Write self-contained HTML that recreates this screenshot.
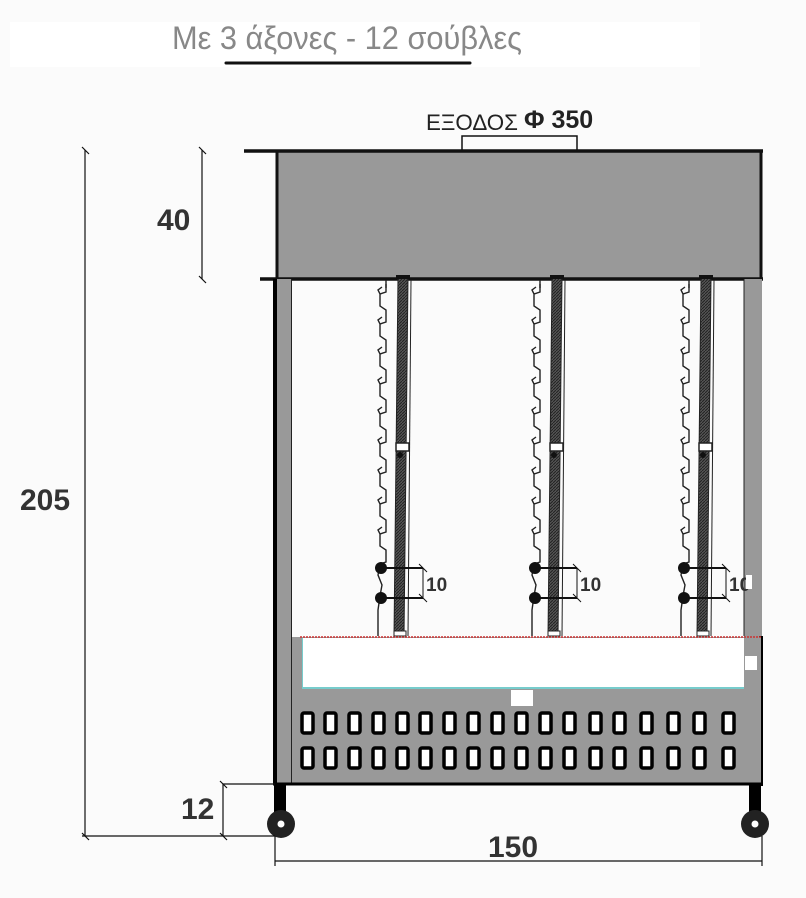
<!DOCTYPE html>
<html><head><meta charset="utf-8"><style>
html,body{margin:0;padding:0;background:#fbfbfb}
svg{display:block}
text{font-family:"Liberation Sans","DejaVu Sans",sans-serif}
</style></head><body>
<svg width="806" height="898" viewBox="0 0 806 898" xmlns="http://www.w3.org/2000/svg">
<defs>
<pattern id="hatch" width="3" height="3" patternUnits="userSpaceOnUse">
<rect width="3" height="3" fill="#555"/><path d="M0 3L3 0" stroke="#222" stroke-width="1"/>
</pattern>
<g id="hook"><path d="M386 0 L386 8 L380 10 L378 6 L382 3 M380 10 L380 22 L386 26 L386 30" fill="none" stroke="#222" stroke-width="1.4"/></g>
<g id="rodset">
<line x1="386" y1="280" x2="386" y2="288" stroke="#222" stroke-width="1.4"/>
<use href="#hook" y="284"/><use href="#hook" y="314"/><use href="#hook" y="344"/><use href="#hook" y="374"/><use href="#hook" y="404"/><use href="#hook" y="434"/><use href="#hook" y="464"/><use href="#hook" y="494"/><use href="#hook" y="524"/>
<path d="M386 554 L386 562 L380 564 L378 575 L382 585 L380 596 L378 610 L378 636" fill="none" stroke="#222" stroke-width="1.4"/>
<!-- rod -->
<polygon points="398,278 408,278 404,636 394,636" fill="url(#hatch)" stroke="#222" stroke-width="1"/>
<line x1="411" y1="280" x2="408" y2="636" stroke="#222" stroke-width="1"/>
<rect x="396" y="443" width="13" height="8" fill="#fff" stroke="#222" stroke-width="1.5"/>
<circle cx="400" cy="455" r="3" fill="#111"/>
<rect x="394" y="631" width="12" height="5" fill="#fff" stroke="#222" stroke-width="1"/>
<rect x="396" y="275" width="14" height="4" fill="#111"/>
<!-- dots & dim -->
<circle cx="381" cy="568" r="6" fill="#111"/>
<circle cx="381" cy="598" r="6" fill="#111"/>
<line x1="381" y1="568" x2="423" y2="568" stroke="#111" stroke-width="2"/>
<line x1="381" y1="598" x2="423" y2="598" stroke="#111" stroke-width="2"/>
<line x1="423" y1="568" x2="423" y2="598" stroke="#111" stroke-width="1"/>
<line x1="419" y1="564" x2="427" y2="572" stroke="#111" stroke-width="1"/>
<line x1="419" y1="594" x2="427" y2="602" stroke="#111" stroke-width="1"/>
<text x="426" y="591" font-size="19" font-weight="bold" fill="#333">10</text>
</g>
<g id="slot"><rect x="0" y="0" width="11" height="20" rx="2" fill="#fff" stroke="#000" stroke-width="3.5"/></g>
</defs>

<rect x="10" y="22" width="690" height="45" fill="#fff"/>
<text x="172" y="49" font-size="32" fill="#888" textLength="350" lengthAdjust="spacingAndGlyphs" font-family="Liberation Sans Narrow, Liberation Sans, sans-serif">Με 3 άξονες - 12 σούβλες</text>
<line x1="226" y1="63" x2="470" y2="63" stroke="#111" stroke-width="3" stroke-linecap="round"/>

<text x="426" y="130" font-size="22" fill="#222" textLength="92" lengthAdjust="spacingAndGlyphs">ΕΞΟΔΟΣ</text>
<text x="524" y="128" font-size="25" font-weight="bold" fill="#222">Φ 350</text>
<path d="M462 150 V136 H577 V150" fill="none" stroke="#111" stroke-width="1.5"/>

<!-- top box -->
<rect x="277" y="150" width="484" height="128" fill="#999"/>
<line x1="244" y1="151" x2="763" y2="151" stroke="#111" stroke-width="3.5"/>
<line x1="260" y1="279" x2="763" y2="279" stroke="#111" stroke-width="3.5"/>
<line x1="277" y1="150" x2="277" y2="280" stroke="#111" stroke-width="3"/>
<line x1="761" y1="150" x2="761" y2="280" stroke="#111" stroke-width="3"/>

<!-- posts -->
<rect x="273" y="279" width="19" height="505" fill="#999"/>
<rect x="273" y="279" width="4" height="505" fill="#000"/>
<line x1="291.5" y1="279" x2="291.5" y2="784" stroke="#222" stroke-width="1"/>
<rect x="744" y="279" width="18" height="505" fill="#999"/>
<rect x="759" y="636" width="4" height="150" fill="#000"/>
<line x1="744" y1="279" x2="744" y2="636" stroke="#222" stroke-width="1"/>

<use href="#rodset"/>
<use href="#rodset" x="154"/>
<use href="#rodset" x="303"/>
<rect x="746" y="575" width="6" height="14" fill="#fff"/>

<!-- bottom panel -->
<rect x="277" y="637" width="484" height="147" fill="#999"/>
<rect x="273" y="637" width="4" height="147" fill="#000"/>
<line x1="291.5" y1="637" x2="291.5" y2="784" stroke="#222" stroke-width="1"/>
<rect x="302" y="638" width="442" height="50" fill="#fff"/>
<line x1="302" y1="688" x2="744" y2="688" stroke="#7cc" stroke-width="2"/>
<line x1="302.5" y1="638" x2="302.5" y2="688" stroke="#7cc" stroke-width="1"/>
<line x1="300" y1="637" x2="762" y2="637" stroke="#c33" stroke-width="1.5" stroke-dasharray="2 1"/>
<rect x="511" y="690" width="22" height="16" fill="#fff"/>
<rect x="745" y="656" width="12" height="14" fill="#fff"/>
<line x1="273" y1="784" x2="763" y2="784" stroke="#000" stroke-width="3"/>

<g id="row1">
<use href="#slot" x="302" y="713"/><use href="#slot" x="325" y="713"/><use href="#slot" x="349" y="713"/><use href="#slot" x="373" y="713"/><use href="#slot" x="397" y="713"/><use href="#slot" x="420" y="713"/><use href="#slot" x="444" y="713"/><use href="#slot" x="468" y="713"/><use href="#slot" x="492" y="713"/><use href="#slot" x="516" y="713"/><use href="#slot" x="540" y="713"/><use href="#slot" x="564" y="713"/><use href="#slot" x="590" y="713"/><use href="#slot" x="614" y="713"/><use href="#slot" x="641" y="713"/><use href="#slot" x="668" y="713"/><use href="#slot" x="694" y="713"/><use href="#slot" x="723" y="713"/>
</g>
<use href="#row1" y="35"/>

<!-- legs -->
<rect x="274" y="784" width="12" height="28" fill="#000"/>
<circle cx="281" cy="824" r="14" fill="#222"/><circle cx="281" cy="824" r="3.5" fill="#fff"/>
<rect x="749" y="784" width="12" height="28" fill="#000"/>
<circle cx="755" cy="824" r="14" fill="#222"/><circle cx="755" cy="824" r="3.5" fill="#fff"/>

<!-- dimensions -->
<g stroke="#111" stroke-width="1.2" fill="none">
<line x1="85" y1="150" x2="85" y2="836"/>
<line x1="82" y1="836" x2="275" y2="836"/>
<line x1="82" y1="147" x2="89" y2="154"/>
<line x1="82" y1="833" x2="89" y2="840"/>
<line x1="202" y1="150" x2="202" y2="279"/>
<line x1="199" y1="147" x2="206" y2="154"/>
<line x1="199" y1="276" x2="206" y2="283"/>
<line x1="223" y1="784" x2="223" y2="836"/>
<line x1="223" y1="784" x2="275" y2="784"/>
<line x1="220" y1="781" x2="227" y2="788"/>
<line x1="220" y1="833" x2="227" y2="840"/>
<line x1="275" y1="836" x2="275" y2="866"/>
<line x1="762" y1="836" x2="762" y2="866"/>
<line x1="275" y1="861" x2="762" y2="861"/>
</g>
<text x="20" y="510" font-size="30" font-weight="bold" fill="#333">205</text>
<text x="157" y="230" font-size="30" font-weight="bold" fill="#333">40</text>
<text x="181" y="819" font-size="30" font-weight="bold" fill="#333">12</text>
<text x="488" y="857" font-size="30" font-weight="bold" fill="#333">150</text>
</svg>
</body></html>
